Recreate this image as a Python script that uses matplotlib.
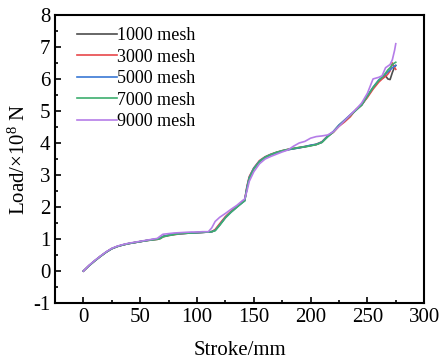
import matplotlib
matplotlib.use('Agg')
import matplotlib.pyplot as plt
from matplotlib.ticker import MultipleLocator

plt.rcParams['font.family'] = ['Liberation Serif', 'DejaVu Serif']
plt.rcParams['mathtext.fontset'] = 'custom'
plt.rcParams['mathtext.rm'] = 'Liberation Serif'
plt.rcParams['axes.unicode_minus'] = False

# stroke (mm) shared by all meshes
stroke = [0, 5, 10, 15, 20, 25, 30, 35, 40, 45, 50, 55, 60, 65, 68, 70, 75, 80, 85, 90,
          95, 100, 105, 110, 113, 116, 120, 125, 130, 135, 140, 142, 144, 146, 150, 155,
          160, 165, 170, 175, 180, 185, 190, 195, 200, 205, 210, 215, 220, 225, 230, 235,
          240, 245, 250, 255, 260, 263, 266, 268, 270, 272, 274, 275]

# load (x10^8 N)
load_1000 = [0, 0.17, 0.32, 0.46, 0.59, 0.70, 0.77, 0.82, 0.86, 0.89, 0.92, 0.95, 0.98, 1.00,
             1.03, 1.08, 1.12, 1.15, 1.17, 1.18, 1.19, 1.20, 1.21, 1.22, 1.23, 1.28, 1.45,
             1.68, 1.85, 2.00, 2.15, 2.20, 2.60, 2.90, 3.20, 3.42, 3.55, 3.63, 3.70, 3.75,
             3.79, 3.82, 3.85, 3.88, 3.92, 3.95, 4.02, 4.20, 4.35, 4.55, 4.70, 4.87, 5.03,
             5.18, 5.45, 5.72, 5.93, 6.02, 6.10, 6.00, 5.98, 6.20, 6.38, 6.42]
load_3000 = [0, 0.17, 0.32, 0.46, 0.59, 0.70, 0.77, 0.82, 0.86, 0.89, 0.92, 0.95, 0.97, 0.99,
             1.02, 1.07, 1.11, 1.14, 1.16, 1.18, 1.19, 1.20, 1.21, 1.22, 1.23, 1.30, 1.48,
             1.70, 1.87, 2.02, 2.16, 2.22, 2.65, 2.95, 3.22, 3.45, 3.57, 3.65, 3.71, 3.76,
             3.80, 3.83, 3.86, 3.89, 3.92, 3.96, 4.04, 4.22, 4.33, 4.52, 4.66, 4.82, 5.05,
             5.20, 5.42, 5.68, 5.90, 6.00, 6.08, 6.15, 6.25, 6.50, 6.35, 6.30]
load_5000 = [0, 0.17, 0.32, 0.46, 0.59, 0.70, 0.77, 0.82, 0.86, 0.89, 0.92, 0.95, 0.98, 1.00,
             1.03, 1.08, 1.12, 1.15, 1.17, 1.18, 1.19, 1.20, 1.21, 1.22, 1.23, 1.27, 1.44,
             1.67, 1.84, 2.00, 2.14, 2.20, 2.62, 2.92, 3.21, 3.43, 3.56, 3.64, 3.70, 3.75,
             3.79, 3.82, 3.85, 3.89, 3.93, 3.96, 4.03, 4.21, 4.36, 4.56, 4.72, 4.88, 5.04,
             5.20, 5.47, 5.74, 5.97, 6.05, 6.15, 6.22, 6.28, 6.35, 6.40, 6.42]
load_7000 = [0, 0.17, 0.32, 0.46, 0.59, 0.70, 0.77, 0.82, 0.86, 0.89, 0.92, 0.95, 0.97, 0.99,
             1.02, 1.07, 1.11, 1.14, 1.17, 1.18, 1.19, 1.20, 1.21, 1.22, 1.23, 1.26, 1.43,
             1.66, 1.84, 1.99, 2.14, 2.19, 2.58, 2.90, 3.19, 3.42, 3.56, 3.64, 3.71, 3.76,
             3.80, 3.83, 3.86, 3.88, 3.91, 3.95, 4.02, 4.19, 4.34, 4.54, 4.70, 4.86, 5.02,
             5.19, 5.46, 5.73, 5.95, 6.05, 6.18, 6.28, 6.35, 6.45, 6.50, 6.52]
load_9000 = [0, 0.18, 0.33, 0.47, 0.60, 0.71, 0.78, 0.83, 0.87, 0.90, 0.93, 0.96, 0.99, 1.02,
             1.10, 1.15, 1.17, 1.19, 1.20, 1.21, 1.22, 1.22, 1.23, 1.23, 1.35, 1.55, 1.68,
             1.80, 1.93, 2.05, 2.20, 2.25, 2.50, 2.80, 3.10, 3.35, 3.50, 3.58, 3.65, 3.72,
             3.78, 3.90, 4.00, 4.05, 4.15, 4.20, 4.22, 4.25, 4.35, 4.52, 4.70, 4.88, 5.05,
             5.25, 5.55, 6.00, 6.05, 6.10, 6.35, 6.40, 6.45, 6.60, 6.90, 7.10]

labels = ['1000 mesh', '3000 mesh', '5000 mesh', '7000 mesh', '9000 mesh']
colors = ['#4d4d4d', '#e8474a', '#3a78d4', '#3dae6e', '#b57de8']
series = [load_1000, load_3000, load_5000, load_7000, load_9000]

fig = plt.figure(figsize=(4.4, 3.63), dpi=100)
ax = fig.add_axes([0.125, 0.165, 0.839, 0.794])

for y, lab, c in zip(series, labels, colors):
    ax.plot(stroke, y, color=c, lw=1.2, label=lab)

ax.set_xlim(-25, 300)
ax.set_ylim(-1, 8)
ax.xaxis.set_major_locator(MultipleLocator(50))
ax.xaxis.set_minor_locator(MultipleLocator(25))
ax.yaxis.set_major_locator(MultipleLocator(1))
ax.yaxis.set_minor_locator(MultipleLocator(0.5))
ax.tick_params(which='both', direction='in', labelsize=15, width=1.2)
ax.tick_params(which='major', length=4)
ax.tick_params(which='minor', length=2.5)
for s in ax.spines.values():
    s.set_linewidth(1.5)

ax.set_xlabel('Stroke/mm', fontsize=15, labelpad=10)
ax.set_ylabel('Load/×10$\\mathregular{^8}$ N', fontsize=15, labelpad=2)

ax.legend(loc='upper left', bbox_to_anchor=(0.03, 0.995), frameon=False, fontsize=13,
          handlelength=2.2, handletextpad=0.0, labelspacing=0.25, borderaxespad=0.2)

fig.savefig('out.png', dpi=100)
